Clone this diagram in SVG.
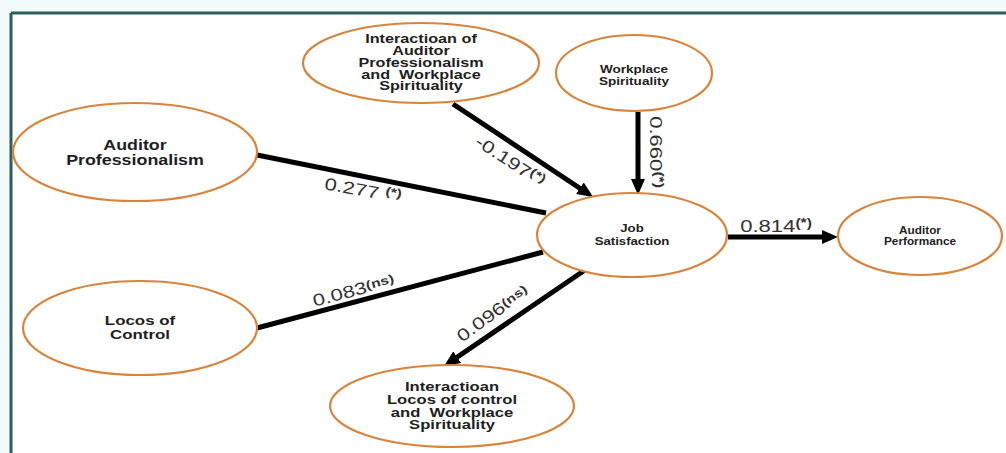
<svg xmlns="http://www.w3.org/2000/svg" width="1006" height="453" viewBox="0 0 1006 453">
<style>
.node ellipse{fill:#fff;stroke:#d9843c;stroke-width:2.2}
.node text{font-family:"Liberation Sans",Arial,sans-serif;font-weight:bold;fill:#1e1e1e;text-anchor:middle}
.conn line{stroke:#000;stroke-width:5}
.lbl{font-family:"Liberation Sans",Arial,sans-serif;fill:#333;font-size:17px;text-anchor:middle}
.sup{font-size:12px;font-weight:bold}
</style>
<defs>
<marker id="ah" markerUnits="strokeWidth" markerWidth="3.2" markerHeight="2.8" refX="1" refY="1.4" orient="auto">
<path d="M0,0 L3.2,1.4 L0,2.8 z" fill="#000"/>
</marker>
</defs>
<rect x="0" y="0" width="1006" height="453" fill="#f3fafa"/>
<rect x="11" y="13" width="995" height="440" fill="#fff"/>
<line x1="11" y1="13" x2="1006" y2="13" stroke="#2d5f5a" stroke-width="3"/>
<line x1="11" y1="13" x2="11" y2="453" stroke="#2d5f5a" stroke-width="3"/>

<g class="conn" id="connectors">
<line x1="257" y1="155" x2="546" y2="213"/>
<line x1="453" y1="104" x2="584" y2="191" marker-end="url(#ah)"/>
<line x1="638" y1="112" x2="638" y2="184" marker-end="url(#ah)"/>
<line x1="728" y1="237" x2="827" y2="237" marker-end="url(#ah)"/>
<line x1="543" y1="252" x2="257" y2="328"/>
<line x1="585" y1="270" x2="453" y2="360" marker-end="url(#ah)"/>
</g>

<g id="labels">
<text class="lbl" transform="translate(362,196) rotate(10) scale(1.3,1)">0.277 <tspan class="sup" dy="-5">(*)</tspan></text>
<text class="lbl" transform="translate(507,166) rotate(33) scale(1.3,1)">-0.197<tspan class="sup" dy="-5">(*)</tspan></text>
<text class="lbl" transform="translate(650,152) rotate(90) scale(1.3,1)">0.660<tspan class="sup" dy="-5">(*)</tspan></text>
<text class="lbl" transform="translate(776,232) scale(1.3,1)">0.814<tspan class="sup" dy="-5">(*)</tspan></text>
<text class="lbl" transform="translate(355,296) rotate(-15) scale(1.3,1)">0.083<tspan class="sup" dy="-3">(ns)</tspan></text>
<text class="lbl" transform="translate(496,318) rotate(-36) scale(1.3,1)">0.096<tspan class="sup" dy="-3">(ns)</tspan></text>
</g>

<g class="node" id="auditor-professionalism">
<ellipse cx="135" cy="152" rx="122" ry="49"/>
<text transform="translate(135,150) scale(1.19,1)" font-size="15">Auditor</text>
<text transform="translate(135,165) scale(1.19,1)" font-size="15">Professionalism</text>
</g>
<g class="node" id="interaction-ap-ws">
<ellipse cx="421" cy="63" rx="118" ry="40"/>
<text transform="translate(421,43) scale(1.35,1)" font-size="12">Interactioan of</text>
<text transform="translate(421,55) scale(1.35,1)" font-size="12">Auditor</text>
<text transform="translate(421,67) scale(1.35,1)" font-size="12">Professionalism</text>
<text transform="translate(421,78.5) scale(1.35,1)" font-size="12" xml:space="preserve">and  Workplace</text>
<text transform="translate(421,90) scale(1.35,1)" font-size="12">Spirituality</text>
</g>
<g class="node" id="workplace-spirituality">
<ellipse cx="634" cy="73" rx="78" ry="38"/>
<text transform="translate(634,73) scale(1.23,1)" font-size="11">Workplace</text>
<text transform="translate(634,85) scale(1.23,1)" font-size="11">Spirituality</text>
</g>
<g class="node" id="job-satisfaction">
<ellipse cx="632" cy="235" rx="95" ry="42"/>
<text transform="translate(632,232) scale(1.2,1)" font-size="11">Job</text>
<text transform="translate(632,245) scale(1.2,1)" font-size="11">Satisfaction</text>
</g>
<g class="node" id="auditor-performance">
<ellipse cx="920" cy="236" rx="82" ry="39"/>
<text transform="translate(920,234) scale(1.18,1)" font-size="10">Auditor</text>
<text transform="translate(920,245) scale(1.18,1)" font-size="10">Performance</text>
</g>
<g class="node" id="locos-of-control">
<ellipse cx="140" cy="328" rx="117" ry="47"/>
<text transform="translate(140,325) scale(1.3,1)" font-size="13">Locos of</text>
<text transform="translate(140,339) scale(1.3,1)" font-size="13">Control</text>
</g>
<g class="node" id="interaction-lc-ws">
<ellipse cx="452" cy="406" rx="122" ry="41"/>
<text transform="translate(452,391) scale(1.33,1)" font-size="12.5">Interactioan</text>
<text transform="translate(452,404) scale(1.33,1)" font-size="12.5">Locos of control</text>
<text transform="translate(452,417) scale(1.33,1)" font-size="12.5" xml:space="preserve">and  Workplace</text>
<text transform="translate(452,429) scale(1.33,1)" font-size="12.5">Spirituality</text>
</g>
</svg>
